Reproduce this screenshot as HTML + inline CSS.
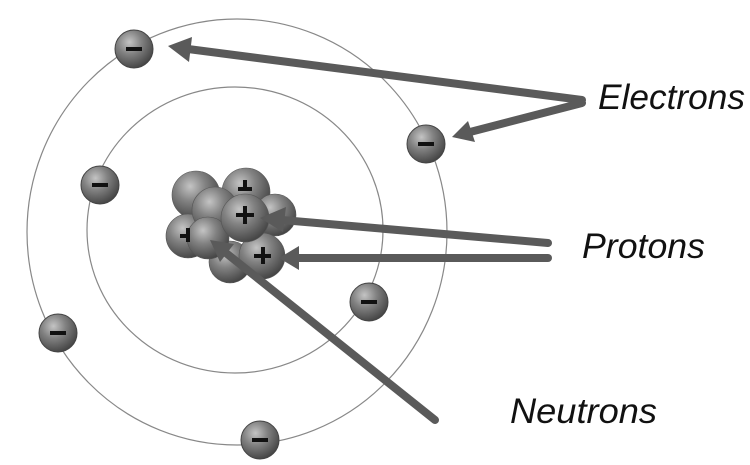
<!DOCTYPE html>
<html><head><style>
body{margin:0;background:#fff;}
svg{display:block}
text{font-family:"Liberation Sans",sans-serif;font-style:italic;font-size:35px;fill:#111}
</style></head><body>
<svg width="750" height="465" viewBox="0 0 750 465">
<defs>
<radialGradient id="g" cx="0.38" cy="0.32" r="0.7">
<stop offset="0" stop-color="#c4c4c4"/><stop offset="0.45" stop-color="#828282"/><stop offset="1" stop-color="#454545"/>
</radialGradient>
</defs>
<ellipse cx="237" cy="232" rx="210" ry="213" fill="none" stroke="#888" stroke-width="1.2"/>
<ellipse cx="235" cy="230" rx="148" ry="143" fill="none" stroke="#888" stroke-width="1.2"/>
<g stroke="#555" stroke-width="0.6">
<circle cx="196" cy="195" r="24" fill="url(#g)"/>
<circle cx="246" cy="192" r="24" fill="url(#g)"/>
<circle cx="275" cy="215" r="21" fill="url(#g)"/>
<circle cx="188" cy="236" r="22" fill="url(#g)"/>
<circle cx="230" cy="262" r="21" fill="url(#g)"/>
<circle cx="215" cy="210" r="23" fill="url(#g)"/>
<circle cx="262" cy="256" r="23" fill="url(#g)"/>
<circle cx="208" cy="238" r="21" fill="url(#g)"/>
<circle cx="245" cy="218" r="24" fill="url(#g)"/>
</g>
<g fill="#111">
<rect x="236" y="213" width="18" height="4"/><rect x="243" y="206" width="4" height="18"/>
<rect x="254" y="254" width="17" height="4"/><rect x="261" y="247" width="4" height="17"/>
<rect x="238" y="187" width="14" height="4"/><rect x="243" y="180" width="4" height="10"/>
<rect x="180" y="234" width="8" height="4"/><rect x="186" y="228" width="4" height="14"/>
</g>
<g>
<circle cx="134" cy="49" r="19" fill="url(#g)" stroke="#444"/>
<circle cx="426" cy="144" r="19" fill="url(#g)" stroke="#444"/>
<circle cx="100" cy="185" r="19" fill="url(#g)" stroke="#444"/>
<circle cx="369" cy="302" r="19" fill="url(#g)" stroke="#444"/>
<circle cx="58" cy="333" r="19" fill="url(#g)" stroke="#444"/>
<circle cx="260" cy="440" r="19" fill="url(#g)" stroke="#444"/>
</g>
<g fill="#111">
<rect x="126" y="47" width="16" height="4"/>
<rect x="418" y="142" width="16" height="4"/>
<rect x="92" y="183" width="16" height="4"/>
<rect x="361" y="300" width="16" height="4"/>
<rect x="50" y="331" width="16" height="4"/>
<rect x="252" y="438" width="16" height="4"/>
</g>
<g stroke="#5a5a5a" stroke-width="8" stroke-linecap="round" fill="none">
<line x1="582" y1="100" x2="188" y2="49"/>
<line x1="582" y1="103" x2="470" y2="132"/>
<line x1="548" y1="243" x2="282" y2="220"/>
<line x1="548" y1="258" x2="298" y2="258"/>
<line x1="435" y1="420" x2="226" y2="253"/>
</g>
<g fill="#5a5a5a">
<polygon points="168,46 192,37 189,62"/>
<polygon points="452,137 468,121 475,142"/>
<polygon points="260,218 286,207 283,232"/>
<polygon points="279,258 299,246 299,270"/>
<polygon points="210,240 234,244 220,262"/>
</g>
<text x="598" y="109" textLength="147" lengthAdjust="spacingAndGlyphs">Electrons</text>
<text x="582" y="258" textLength="123" lengthAdjust="spacingAndGlyphs">Protons</text>
<text x="510" y="423" textLength="147" lengthAdjust="spacingAndGlyphs">Neutrons</text>
</svg>
</body></html>
